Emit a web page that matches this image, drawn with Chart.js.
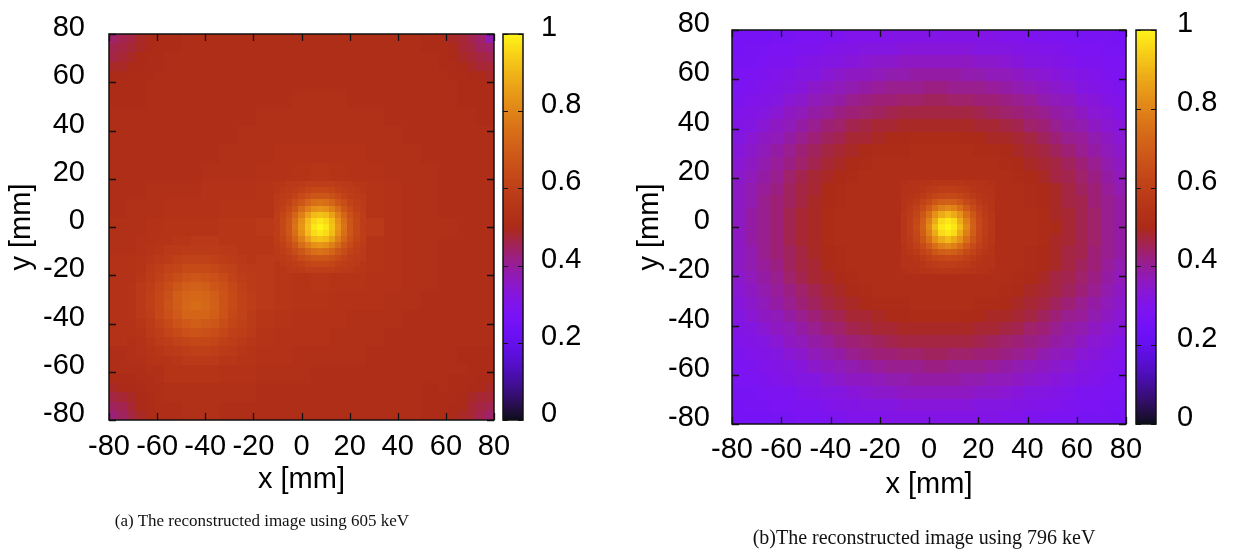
<!DOCTYPE html>
<html><head><meta charset="utf-8">
<script src="https://cdn.jsdelivr.net/npm/chart.js@4.4.1/dist/chart.umd.min.js"></script>
<style>
html,body{margin:0;padding:0;background:#fff;width:1234px;height:552px;overflow:hidden}
canvas{position:absolute;top:0}
#ca{left:0} #cb{left:617px}
.cap{position:absolute;font-family:"Liberation Serif","Times New Roman",serif;color:#111;white-space:nowrap;transform:translate(-50%,-50%)}
</style></head><body>
<canvas id="ca" width="617" height="552"></canvas>
<canvas id="cb" width="617" height="552"></canvas>
<div class="cap" style="left:262px;top:521px;font-size:17px">(a) The reconstructed image using 605 keV</div>
<div class="cap" style="left:924px;top:537px;font-size:20px">(b)The reconstructed image using 796 keV</div>
<script>
// ---- data (positions in mm, values normalised 0..1) ----
const colX = [-76.19,-68.57,-60.95,-53.33,-45.71,-38.10,-30.48,-22.86,-15.24,-7.62,0,7.62,15.24,22.86,30.48,38.10,45.71,53.33,60.95,68.57,76.19];
const rowY = [76.19,68.57,60.95,53.33,45.71,38.10,30.48,22.86,15.24,7.62,0,-7.62,-15.24,-22.86,-30.48,-38.10,-45.71,-53.33,-60.95,-68.57,-76.19];
const coarseStep = 7.619;
const gridX = [-77.42,-72.26,-67.10,-61.94,-56.77,-51.61,-46.45,-41.29,-36.13,-30.97,-25.81,-20.65,-15.48,-10.32,-5.16,0,5.16,10.32,15.48,20.65,25.81,30.97,36.13,41.29,46.45,51.61,56.77,61.94,67.10,72.26,77.42];
const gridY = [77.42,72.26,67.10,61.94,56.77,51.61,46.45,41.29,36.13,30.97,25.81,20.65,15.48,10.32,5.16,0,-5.16,-10.32,-15.48,-20.65,-25.81,-30.97,-36.13,-41.29,-46.45,-51.61,-56.77,-61.94,-67.10,-72.26,-77.42];
const gridStep = 5.161;
const spotX = [-10.16,-7.62,-5.08,-2.54,0,2.54,5.08,7.62,10.16,12.70,15.24,17.78,20.32,22.86,25.40];
const spotY = [17.78,15.24,12.70,10.16,7.62,5.08,2.54,0,-2.54,-5.08,-7.62,-10.16,-12.70,-15.24,-17.78];
const fineStep = 2.54;
const haloX = [-70.48,-66.67,-62.86,-59.05,-55.24,-51.43,-47.62,-43.81,-40.00,-36.19,-32.38,-28.57,-24.76,-20.95];
const haloY = [-5.71,-9.52,-13.33,-17.14,-20.95,-24.76,-28.57,-32.38,-36.19,-40.00,-43.81,-47.62,-51.43,-55.24];
const edgeLX = [-78.10,-74.29,-70.48,-66.67,-62.86,-59.05];
const edgeRX = [59.05,62.86,66.67,70.48,74.29,78.10];
const edgeTY = [78.10,74.29,70.48,66.67,62.86,59.05];
const edgeBY = [-59.05,-62.86,-66.67,-70.48,-74.29,-78.10];
const midStep = 3.81;
const axisTicks = [-80,-60,-40,-20,0,20,40,60,80];
const axisLabels = ['-80','-60','-40','-20','0','20','40','60','80'];
const cbTicks = [0,0.2,0.4,0.6,0.8,1];
const cbLabels = ['0','0.2','0.4','0.6','0.8','1'];

// panel (a): 605 keV, coarse map, rows top (y=+76) to bottom (y=-76)
const img605 = [
[.45,.47,.49,.51,.52,.52,.52,.52,.52,.52,.52,.52,.52,.52,.52,.52,.52,.51,.48,.45,.42],
[.47,.49,.50,.52,.52,.52,.52,.52,.52,.52,.52,.52,.52,.52,.52,.52,.52,.52,.50,.48,.45],
[.49,.50,.51,.52,.52,.52,.52,.52,.52,.52,.52,.52,.52,.52,.52,.52,.52,.52,.51,.50,.48],
[.51,.51,.52,.52,.52,.52,.52,.52,.52,.52,.53,.53,.53,.52,.52,.52,.52,.52,.52,.51,.51],
[.52,.52,.52,.52,.52,.52,.52,.52,.53,.53,.53,.53,.53,.53,.53,.52,.52,.52,.52,.52,.51],
[.52,.52,.52,.52,.52,.52,.52,.53,.53,.53,.53,.53,.53,.53,.53,.53,.52,.52,.52,.52,.52],
[.52,.52,.52,.52,.52,.52,.53,.53,.53,.54,.54,.54,.54,.54,.53,.53,.53,.52,.52,.52,.52],
[.52,.52,.52,.52,.52,.53,.53,.53,.54,.54,.55,.56,.55,.54,.54,.53,.53,.53,.52,.52,.52],
[.52,.52,.53,.53,.53,.54,.54,.54,.55,.56,.60,.63,.60,.56,.55,.54,.53,.53,.52,.52,.52],
[.52,.53,.53,.54,.54,.54,.55,.55,.55,.59,.72,.83,.74,.60,.55,.54,.53,.53,.52,.52,.52],
[.53,.53,.54,.55,.55,.55,.56,.56,.57,.62,.83,1.0,.86,.63,.57,.54,.53,.53,.53,.52,.52],
[.53,.54,.55,.57,.58,.58,.57,.57,.56,.60,.73,.83,.74,.60,.55,.54,.53,.53,.52,.52,.52],
[.54,.55,.58,.61,.63,.63,.60,.58,.57,.57,.61,.63,.61,.56,.55,.54,.53,.53,.52,.52,.52],
[.54,.56,.61,.67,.71,.70,.64,.60,.57,.56,.55,.56,.55,.55,.54,.54,.53,.53,.52,.52,.52],
[.54,.57,.63,.70,.75,.73,.67,.61,.57,.56,.55,.55,.54,.54,.54,.53,.53,.52,.52,.52,.52],
[.54,.57,.62,.69,.73,.71,.65,.60,.56,.55,.54,.54,.54,.53,.53,.53,.52,.52,.52,.52,.52],
[.54,.55,.59,.63,.66,.65,.61,.58,.55,.54,.54,.54,.53,.53,.53,.52,.52,.52,.52,.52,.52],
[.52,.54,.56,.58,.59,.59,.57,.55,.54,.54,.53,.53,.53,.53,.52,.52,.52,.52,.52,.51,.51],
[.50,.51,.53,.55,.55,.55,.54,.54,.53,.53,.53,.52,.52,.52,.52,.52,.52,.52,.51,.50,.49],
[.48,.50,.52,.53,.53,.53,.53,.53,.52,.52,.52,.52,.52,.52,.52,.52,.52,.51,.50,.49,.47],
[.46,.48,.50,.52,.53,.53,.52,.52,.52,.52,.52,.52,.52,.52,.52,.52,.52,.51,.49,.47,.45]
];
// panel (a): detail of the four corners
const cornerTL605 = [
[.44,.46,.47,.49,.50,.51],
[.46,.47,.48,.49,.50,.51],
[.47,.48,.49,.50,.51,.51],
[.49,.49,.50,.50,.51,.51],
[.50,.50,.51,.51,.51,.52],
[.51,.51,.51,.51,.52,.52]
];
const cornerTR605 = [
[.51,.49,.48,.46,.44,.38],
[.51,.50,.48,.47,.45,.44],
[.51,.50,.49,.48,.47,.46],
[.51,.51,.50,.49,.48,.48],
[.52,.51,.51,.50,.50,.49],
[.52,.52,.51,.51,.51,.51]
];
const cornerBL605 = [
[.52,.52,.52,.52,.53,.53],
[.51,.51,.51,.52,.52,.53],
[.49,.50,.50,.51,.52,.52],
[.47,.48,.49,.50,.51,.52],
[.45,.46,.48,.50,.51,.52],
[.43,.45,.47,.49,.51,.52]
];
const cornerBR605 = [
[.52,.52,.52,.51,.51,.51],
[.52,.51,.51,.51,.50,.50],
[.52,.51,.51,.50,.50,.49],
[.51,.51,.50,.49,.48,.48],
[.51,.50,.50,.48,.47,.46],
[.51,.50,.49,.48,.46,.44]
];
// panel (a): detail of the bright source near (8, 0)
const spot605 = [
[.56,.56,.57,.57,.58,.59,.59,.59,.59,.59,.58,.57,.57,.56,.56],
[.56,.57,.58,.59,.60,.62,.63,.63,.63,.62,.60,.59,.58,.57,.56],
[.57,.58,.59,.61,.64,.66,.68,.68,.68,.66,.64,.61,.59,.58,.57],
[.57,.59,.61,.65,.68,.72,.75,.76,.75,.72,.68,.65,.61,.59,.57],
[.58,.60,.64,.68,.74,.79,.83,.84,.83,.79,.74,.68,.64,.60,.58],
[.59,.62,.66,.72,.79,.86,.91,.92,.91,.86,.79,.72,.66,.62,.59],
[.59,.63,.68,.75,.83,.91,.96,.98,.96,.91,.83,.75,.68,.63,.59],
[.59,.63,.68,.76,.84,.92,.98,1.0,.98,.92,.84,.76,.68,.63,.59],
[.59,.63,.68,.75,.83,.91,.96,.98,.96,.91,.83,.75,.68,.63,.59],
[.59,.62,.66,.72,.79,.86,.91,.92,.91,.86,.79,.72,.66,.62,.59],
[.58,.60,.64,.68,.74,.79,.83,.84,.83,.79,.74,.68,.64,.60,.58],
[.57,.59,.61,.65,.68,.72,.75,.76,.75,.72,.68,.65,.61,.59,.57],
[.57,.58,.59,.61,.64,.66,.68,.68,.68,.66,.64,.61,.59,.58,.57],
[.56,.57,.58,.59,.60,.62,.63,.63,.63,.62,.60,.59,.58,.57,.56],
[.56,.56,.57,.57,.58,.59,.59,.59,.59,.59,.58,.57,.57,.56,.56]
];
// panel (a): detail of the weaker source near (-44, -32)
const halo605 = [
[.53,.54,.54,.55,.55,.56,.56,.57,.57,.57,.56,.56,.56,.56],
[.53,.54,.55,.56,.57,.57,.58,.58,.58,.58,.57,.57,.56,.56],
[.54,.55,.56,.57,.58,.60,.61,.61,.61,.60,.59,.58,.57,.56],
[.54,.55,.57,.59,.61,.62,.64,.64,.64,.63,.61,.60,.58,.57],
[.54,.56,.58,.60,.63,.65,.67,.68,.67,.66,.64,.61,.59,.58],
[.55,.57,.59,.62,.65,.68,.70,.71,.70,.68,.66,.63,.60,.58],
[.55,.57,.60,.63,.66,.70,.72,.73,.72,.70,.67,.64,.61,.59],
[.55,.57,.60,.63,.67,.70,.73,.74,.73,.71,.67,.64,.61,.59],
[.55,.57,.59,.63,.66,.69,.72,.72,.72,.70,.67,.63,.61,.58],
[.54,.56,.58,.61,.64,.67,.69,.70,.69,.68,.65,.62,.60,.58],
[.54,.55,.57,.59,.62,.64,.66,.67,.66,.65,.63,.60,.59,.57],
[.53,.54,.56,.58,.59,.61,.62,.63,.63,.62,.60,.59,.57,.56],
[.53,.54,.55,.56,.57,.58,.59,.60,.60,.59,.58,.57,.56,.55],
[.53,.53,.54,.55,.55,.56,.57,.57,.57,.57,.56,.56,.55,.55]
];

// panel (b): 796 keV, 31x31 map, rows top (y=+77) to bottom (y=-77)
const img796 = [
[.26,.26,.26,.27,.27,.28,.28,.29,.29,.30,.30,.30,.31,.31,.31,.31,.31,.31,.31,.31,.31,.30,.30,.29,.29,.28,.28,.27,.27,.27,.26],
[.26,.27,.27,.28,.28,.29,.29,.30,.31,.31,.32,.32,.32,.33,.33,.33,.33,.33,.33,.32,.32,.32,.31,.31,.30,.30,.29,.28,.28,.27,.27],
[.27,.27,.28,.29,.29,.30,.31,.32,.32,.33,.34,.35,.35,.36,.36,.36,.36,.36,.36,.35,.35,.34,.33,.32,.32,.31,.30,.29,.29,.28,.28],
[.28,.28,.29,.30,.31,.32,.32,.34,.35,.36,.36,.37,.38,.38,.39,.39,.39,.39,.38,.38,.37,.37,.36,.35,.34,.33,.32,.31,.30,.29,.28],
[.28,.29,.30,.31,.32,.33,.35,.36,.37,.38,.39,.40,.41,.41,.41,.42,.42,.41,.41,.41,.40,.39,.38,.37,.36,.35,.34,.32,.31,.30,.29],
[.29,.30,.31,.32,.34,.35,.37,.38,.39,.41,.42,.43,.43,.44,.44,.45,.45,.44,.44,.43,.43,.42,.41,.40,.38,.37,.36,.34,.33,.31,.30],
[.30,.31,.32,.34,.36,.37,.39,.40,.42,.43,.44,.45,.46,.47,.47,.47,.47,.47,.47,.46,.45,.44,.43,.42,.41,.39,.38,.36,.34,.33,.31],
[.31,.32,.34,.36,.37,.39,.41,.43,.44,.46,.47,.48,.48,.49,.49,.49,.49,.49,.49,.48,.48,.47,.46,.44,.43,.41,.39,.38,.36,.34,.33],
[.32,.34,.36,.37,.39,.41,.43,.45,.46,.48,.48,.49,.50,.50,.51,.51,.51,.51,.50,.50,.49,.49,.48,.47,.45,.43,.41,.40,.38,.36,.34],
[.33,.35,.37,.39,.41,.43,.45,.47,.48,.49,.50,.51,.51,.51,.52,.52,.52,.52,.52,.51,.51,.50,.49,.48,.47,.45,.43,.41,.39,.37,.35],
[.34,.36,.38,.40,.42,.44,.46,.48,.49,.50,.51,.52,.52,.52,.52,.52,.52,.52,.52,.52,.52,.51,.50,.49,.48,.47,.45,.43,.41,.38,.36],
[.35,.37,.39,.41,.44,.46,.48,.49,.50,.51,.52,.52,.52,.52,.52,.52,.52,.52,.52,.52,.52,.52,.51,.50,.49,.47,.46,.44,.42,.39,.37],
[.36,.38,.40,.42,.45,.47,.48,.50,.51,.52,.52,.52,.52,.52,.52,.52,.52,.52,.52,.52,.52,.52,.52,.51,.50,.49,.47,.45,.43,.40,.38],
[.36,.38,.41,.43,.45,.47,.49,.50,.51,.52,.52,.52,.52,.52,.52,.52,.52,.52,.52,.52,.52,.52,.52,.51,.50,.49,.47,.46,.43,.41,.39],
[.36,.39,.41,.43,.46,.48,.49,.51,.52,.52,.52,.52,.52,.52,.52,.52,.52,.52,.52,.52,.52,.52,.52,.52,.51,.49,.48,.46,.44,.41,.39],
[.36,.39,.41,.43,.46,.48,.49,.51,.52,.52,.52,.52,.52,.52,.52,.52,.52,.52,.52,.52,.52,.52,.52,.52,.51,.50,.48,.46,.44,.41,.39],
[.36,.39,.41,.43,.46,.48,.49,.51,.52,.52,.52,.52,.52,.52,.52,.52,.52,.52,.52,.52,.52,.52,.52,.52,.51,.49,.48,.46,.44,.41,.39],
[.36,.38,.41,.43,.45,.47,.49,.50,.51,.52,.52,.52,.52,.52,.52,.52,.52,.52,.52,.52,.52,.52,.52,.51,.50,.49,.47,.46,.43,.41,.39],
[.36,.38,.40,.42,.45,.47,.48,.50,.51,.52,.52,.52,.52,.52,.52,.52,.52,.52,.52,.52,.52,.52,.52,.51,.50,.49,.47,.45,.43,.40,.38],
[.35,.37,.39,.41,.44,.46,.48,.49,.50,.51,.52,.52,.52,.52,.52,.52,.52,.52,.52,.52,.52,.52,.51,.50,.49,.47,.46,.44,.42,.39,.37],
[.34,.36,.38,.40,.42,.44,.46,.48,.49,.50,.51,.52,.52,.52,.52,.52,.52,.52,.52,.52,.52,.51,.50,.49,.48,.47,.45,.43,.41,.38,.36],
[.33,.35,.37,.39,.41,.43,.45,.47,.48,.49,.50,.51,.51,.51,.52,.52,.52,.52,.52,.51,.51,.50,.49,.48,.47,.45,.43,.41,.39,.37,.35],
[.32,.34,.36,.37,.39,.41,.43,.45,.46,.48,.48,.49,.50,.50,.51,.51,.51,.51,.50,.50,.49,.49,.48,.47,.45,.43,.41,.40,.38,.36,.34],
[.31,.32,.34,.36,.37,.39,.41,.43,.44,.46,.47,.48,.48,.49,.49,.49,.49,.49,.49,.48,.48,.47,.46,.44,.43,.41,.39,.38,.36,.34,.33],
[.30,.31,.32,.34,.36,.37,.39,.40,.42,.43,.44,.45,.46,.47,.47,.47,.47,.47,.47,.46,.45,.44,.43,.42,.41,.39,.38,.36,.34,.33,.31],
[.29,.30,.31,.32,.34,.35,.37,.38,.39,.41,.42,.43,.43,.44,.44,.45,.45,.44,.44,.43,.43,.42,.41,.40,.38,.37,.36,.34,.33,.31,.30],
[.28,.29,.30,.31,.32,.33,.35,.36,.37,.38,.39,.40,.41,.41,.41,.42,.42,.41,.41,.41,.40,.39,.38,.37,.36,.35,.34,.32,.31,.30,.29],
[.28,.28,.29,.30,.31,.32,.32,.34,.35,.36,.36,.37,.38,.38,.39,.39,.39,.39,.38,.38,.37,.37,.36,.35,.34,.33,.32,.31,.30,.29,.28],
[.27,.27,.28,.29,.29,.30,.31,.32,.32,.33,.34,.35,.35,.36,.36,.36,.36,.36,.36,.35,.35,.34,.33,.32,.32,.31,.30,.29,.29,.28,.28],
[.26,.27,.27,.28,.28,.29,.29,.30,.31,.31,.32,.32,.32,.33,.33,.33,.33,.33,.33,.32,.32,.32,.31,.31,.30,.30,.29,.28,.28,.27,.27],
[.26,.26,.26,.27,.27,.28,.28,.29,.29,.30,.30,.30,.31,.31,.31,.31,.31,.31,.31,.31,.31,.30,.30,.29,.29,.28,.28,.27,.27,.27,.26]
];
// panel (b): detail of the source near (8, 0)
const spot796 = [
[.53,.54,.54,.55,.55,.56,.56,.56,.56,.56,.55,.55,.54,.54,.53],
[.54,.54,.55,.56,.57,.58,.59,.59,.59,.58,.57,.56,.55,.54,.54],
[.54,.55,.56,.58,.60,.62,.63,.64,.63,.62,.60,.58,.56,.55,.54],
[.55,.56,.58,.61,.64,.68,.70,.71,.70,.68,.64,.61,.58,.56,.55],
[.55,.57,.60,.64,.69,.75,.79,.81,.79,.75,.69,.64,.60,.57,.55],
[.56,.58,.62,.68,.75,.83,.88,.91,.88,.83,.75,.68,.62,.58,.56],
[.56,.59,.63,.70,.79,.88,.96,.98,.96,.88,.79,.70,.63,.59,.56],
[.56,.59,.64,.71,.81,.91,.98,1.0,.98,.91,.81,.71,.64,.59,.56],
[.56,.59,.63,.70,.79,.88,.96,.98,.96,.88,.79,.70,.63,.59,.56],
[.56,.58,.62,.68,.75,.83,.88,.91,.88,.83,.75,.68,.62,.58,.56],
[.55,.57,.60,.64,.69,.75,.79,.81,.79,.75,.69,.64,.60,.57,.55],
[.55,.56,.58,.61,.64,.68,.70,.71,.70,.68,.64,.61,.58,.56,.55],
[.54,.55,.56,.58,.60,.62,.63,.64,.63,.62,.60,.58,.56,.55,.54],
[.54,.54,.55,.56,.57,.58,.59,.59,.59,.58,.57,.56,.55,.54,.54],
[.53,.54,.54,.55,.55,.56,.56,.56,.56,.56,.55,.55,.54,.54,.53]
];

// ---- palette: gnuplot rgbformulae 7,5,15, toned like the printed figure ----
function palette(v){
  v = Math.max(0, Math.min(1, v));
  const r = Math.sqrt(v), g = v*v*v, b = Math.max(0, Math.sin(2*Math.PI*v));
  const R = 255*Math.pow(r, 1.15), G = 0.9*255*g + 14, B = 0.87*255*b + 24;
  const c = (x) => Math.max(0, Math.min(255, Math.round(x)));
  return 'rgb(' + c(R) + ',' + c(G) + ',' + c(B) + ')';
}

function toCells(rows, xs, ys, step){
  const out = [];
  rows.forEach((row, j) => row.forEach((v, i) => out.push({x: xs[i], y: ys[j], v: v, s: step})));
  return out;
}

const heatPlugin = {
  id: 'heat',
  beforeDatasetsDraw(chart, args, opts){
    const {ctx, chartArea: a, scales: {x, y}} = chart;
    ctx.save();
    ctx.beginPath(); ctx.rect(a.left, a.top, a.width, a.height); ctx.clip();
    for (const ds of chart.data.datasets){
      for (const p of ds.data){
        const h = p.s / 2;
        const l = Math.round(x.getPixelForValue(p.x - h)), r = Math.round(x.getPixelForValue(p.x + h));
        const t = Math.round(y.getPixelForValue(p.y + h)), b = Math.round(y.getPixelForValue(p.y - h));
        ctx.fillStyle = palette(p.v);
        ctx.fillRect(l, t, r - l, b - t);
      }
    }
    ctx.restore();
  },
  afterDatasetsDraw(chart, args, opts){
    const {ctx, chartArea: a, scales: {x, y, cb}} = chart;
    ctx.save();
    ctx.strokeStyle = '#111';
    ctx.lineWidth = 1.3;
    const L = 7;
    ctx.beginPath();
    for (const t of axisTicks){
      const px = Math.round(x.getPixelForValue(t)) + 0.5;
      ctx.moveTo(px, a.bottom); ctx.lineTo(px, a.bottom - L);
      ctx.moveTo(px, a.top); ctx.lineTo(px, a.top + L);
      const py = Math.round(y.getPixelForValue(t)) + 0.5;
      ctx.moveTo(a.left, py); ctx.lineTo(a.left + L, py);
      ctx.moveTo(a.right, py); ctx.lineTo(a.right - L, py);
    }
    ctx.stroke();
    ctx.lineWidth = 1.5;
    ctx.strokeRect(a.left, a.top, a.width, a.height);
    // colour box
    const cl = a.right + opts.cbGap, cw = opts.cbWidth;
    const steps = 240;
    for (let k = 0; k < steps; k++){
      const v0 = k / steps, v1 = (k + 1) / steps;
      const p0 = cb.getPixelForValue(v0), p1 = cb.getPixelForValue(v1);
      ctx.fillStyle = palette((v0 + v1) / 2);
      ctx.fillRect(cl, Math.floor(p1), cw, Math.ceil(p0) - Math.floor(p1));
    }
    ctx.lineWidth = 1.2;
    ctx.beginPath();
    for (const t of cbTicks){
      const py = Math.round(cb.getPixelForValue(t)) + 0.5;
      ctx.moveTo(cl, py); ctx.lineTo(cl + 5, py);
      ctx.moveTo(cl + cw, py); ctx.lineTo(cl + cw - 5, py);
    }
    ctx.stroke();
    ctx.lineWidth = 1.5;
    ctx.strokeRect(cl, cb.getPixelForValue(1), cw, cb.getPixelForValue(0) - cb.getPixelForValue(1));
    ctx.restore();
  }
};

const FONT = {family: '"Liberation Sans", Arial, sans-serif', size: 29};

function makeChart(id, layers, L){
  const fixTicks = (vals) => (s) => { s.ticks = vals.map(v => ({value: v})); };
  const fitV = (w) => (s) => { s.width = w; s.paddingTop = 0; s.paddingBottom = 0; };
  return new Chart(document.getElementById(id), {
    type: 'scatter',
    data: {datasets: layers.map(d => ({data: d, pointRadius: 0, pointHoverRadius: 0}))},
    plugins: [heatPlugin],
    options: {
      responsive: false, animation: false, devicePixelRatio: 1,
      layout: {padding: {top: L.top, left: 0, right: 0, bottom: 0}},
      plugins: {legend: {display: false}, tooltip: {enabled: false},
        heat: {cbGap: L.cbGap, cbWidth: 20}},
      events: [],
      scales: {
        x: {type: 'linear', position: 'bottom', min: -80, max: 80,
          afterBuildTicks: fixTicks(axisTicks),
          afterFit: (s) => { s.height = L.xH; s.paddingLeft = 0; s.paddingRight = 0; },
          grid: {display: false, drawTicks: false}, border: {display: false},
          ticks: {autoSkip: false, maxRotation: 0, minRotation: 0, color: '#000', font: FONT, padding: L.xPad,
            callback: (v, i) => axisLabels[i]},
          title: {display: true, text: 'x [mm]', color: '#000', font: FONT, padding: {top: 0, bottom: L.xTitle}}},
        y: {type: 'linear', position: 'left', min: -80, max: 80,
          afterBuildTicks: fixTicks(axisTicks),
          afterFit: fitV(L.yW),
          grid: {display: false, drawTicks: false}, border: {display: false},
          ticks: {autoSkip: false, color: '#000', font: FONT, padding: L.yPad, labelOffset: -6,
            callback: (v, i) => axisLabels[i]},
          title: {display: true, text: 'y [mm]', color: '#000', font: FONT, padding: {top: L.yTitle, bottom: 0}}},
        cb: {type: 'linear', position: 'right', min: 0, max: 1,
          afterBuildTicks: fixTicks(cbTicks),
          afterFit: fitV(L.cbW),
          grid: {display: false, drawTicks: false}, border: {display: false},
          ticks: {autoSkip: false, color: '#000', font: FONT, padding: L.cbPad, labelOffset: -6,
            callback: (v, i) => cbLabels[i]}}
      }
    }
  });
}

makeChart('ca', [
  toCells(img605, colX, rowY, coarseStep),
  toCells(cornerTL605, edgeLX, edgeTY, midStep),
  toCells(cornerTR605, edgeRX, edgeTY, midStep),
  toCells(cornerBL605, edgeLX, edgeBY, midStep),
  toCells(cornerBR605, edgeRX, edgeBY, midStep),
  toCells(halo605, haloX, haloY, midStep),
  toCells(spot605, spotX, spotY, fineStep)
], {top: 34, xH: 132, yW: 109, cbW: 123, xPad: 10, yPad: 24, cbPad: 47, xTitle: 55, yTitle: 5, cbGap: 9});
makeChart('cb', [
  toCells(img796, gridX, gridY, gridStep),
  toCells(spot796, spotX, spotY, fineStep)
], {top: 30, xH: 128, yW: 115, cbW: 108, xPad: 9, yPad: 22, cbPad: 51, xTitle: 50, yTitle: 16, cbGap: 10});
</script>
</body></html>
